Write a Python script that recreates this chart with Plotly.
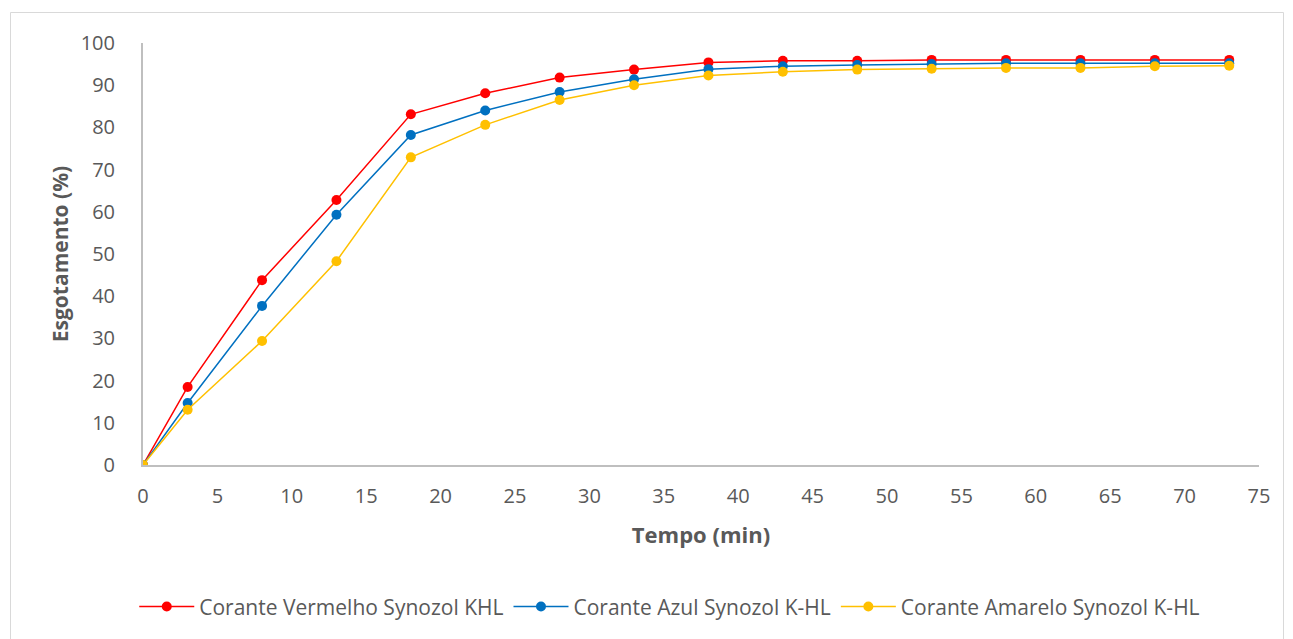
import plotly.graph_objects as go

tempo = [0, 3, 8, 13, 18, 23, 28, 33, 38, 43, 48, 53, 58, 63, 68, 73]
vermelho = [0, 18.5, 43.8, 62.8, 83.1, 88.1, 91.8, 93.7, 95.4, 95.8, 95.8, 96.0, 96.0, 96.0, 96.0, 96.0]
azul = [0, 14.7, 37.7, 59.3, 78.2, 84.0, 88.4, 91.4, 93.8, 94.5, 94.8, 95.0, 95.2, 95.2, 95.2, 95.2]
amarelo = [0, 13.1, 29.4, 48.3, 72.9, 80.6, 86.5, 90.0, 92.3, 93.2, 93.7, 93.9, 94.1, 94.1, 94.5, 94.6]

series = [
    ("Corante Vermelho Synozol KHL", vermelho, "#FF0000"),
    ("Corante Azul Synozol K-HL", azul, "#0070C0"),
    ("Corante Amarelo Synozol K-HL", amarelo, "#FFC000"),
]

FONT = "Open Sans, sans-serif"
GREY = "#595959"

fig = go.Figure()
for name, vals, col in series:
    fig.add_trace(go.Scatter(
        x=tempo, y=vals, name=name, mode="lines+markers",
        line=dict(color=col, width=1.5),
        marker=dict(color=col, size=10),
    ))

fig.update_layout(
    width=1293, height=639,
    margin=dict(l=143, r=34, t=43, b=174),
    paper_bgcolor="white", plot_bgcolor="white",
    font=dict(family=FONT, color=GREY, size=18),
    showlegend=True,
    legend=dict(orientation="h", x=0.472, xanchor="center", y=-0.336, yanchor="middle",
                font=dict(size=21, color=GREY), itemwidth=55, traceorder="normal"),
    xaxis=dict(range=[0, 75], dtick=5, tick0=0, showgrid=False, zeroline=False,
               showline=True, linecolor="#BFBFBF", linewidth=2,
               ticks="outside", ticklen=12, tickcolor="rgba(0,0,0,0)",
               tickfont=dict(size=20, color=GREY),
               title=dict(text="<b>Tempo (min)</b>", font=dict(size=22, color=GREY), standoff=20)),
    yaxis=dict(range=[0, 100], dtick=10, showgrid=False, zeroline=False,
               showline=True, linecolor="#BFBFBF", linewidth=2,
               ticks="outside", ticklen=22, tickcolor="rgba(0,0,0,0)",
               tickfont=dict(size=20, color=GREY),
               title=dict(text="<b>Esgotamento (%)</b>", font=dict(size=21, color=GREY), standoff=6)),
    shapes=[dict(type="rect", xref="paper", yref="paper",
                 x0=(10.5 - 143) / 1116, x1=(1283.5 - 143) / 1116,
                 y0=(465 - 660) / 422, y1=(465 - 12.5) / 422,
                 line=dict(color="#D9D9D9", width=1), fillcolor="rgba(0,0,0,0)", layer="below")],
)

fig.write_html("out.html")
